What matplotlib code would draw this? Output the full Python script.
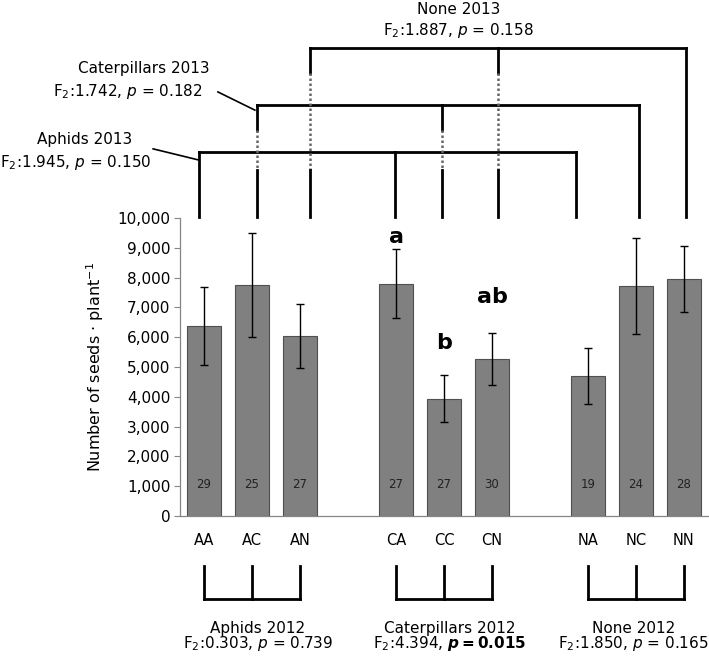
import numpy as np
import matplotlib.pyplot as plt
from matplotlib.ticker import StrMethodFormatter

plt.rcParams['font.family'] = ['DejaVu Sans']
plt.rcParams['mathtext.fontset'] = 'dejavusans'

#- Data
labels = ['AA', 'AC', 'AN', 'CA', 'CC', 'CN', 'NA', 'NC', 'NN']
means = [6380, 7750, 6040, 7790, 3930, 5270, 4700, 7720, 7950]
errs = [1320, 1730, 1070, 1160, 790, 880, 950, 1600, 1120]
n_plants = [29, 25, 27, 27, 27, 30, 19, 24, 28]
sig_labels = ['', '', '', 'a', 'b', 'ab', '', '', '']
sig_y = [0, 0, 0, 9350, 5800, 7350, 0, 0, 0]

groups_2012 = ['Aphids 2012', 'Caterpillars 2012', 'None 2012']
stats_2012 = [r'F$_2$:0.303, $\it{p}$ = 0.739',
              r'F$_2$:4.394, $\mathbfit{p}\mathbf{=0.015}$',
              r'F$_2$:1.850, $\it{p}$ = 0.165']
groups_2013 = ['Aphids 2013', 'Caterpillars 2013', 'None 2013']
stats_2013 = [r'F$_2$:1.945, $\it{p}$ = 0.150',
              r'F$_2$:1.742, $\it{p}$ = 0.182',
              r'F$_2$:1.887, $\it{p}$ = 0.158']

#- bar positions: three groups of three with a gap
x = np.array([g*4 + j for g in range(3) for j in range(3)])

fig = plt.figure(figsize=(7.09, 6.63), dpi=100)
ax = fig.add_axes([180/709, 147/663, 528/709, 298/663])

ax.bar(x, means, width=0.7, color='#808080', edgecolor='#505050', linewidth=0.8, zorder=2)
ax.errorbar(x, means, yerr=errs, fmt='none', ecolor='black', elinewidth=1.0,
            capsize=3, capthick=1.0, zorder=3)
for xi, n in zip(x, n_plants):
    ax.text(xi, 1050, str(n), ha='center', va='center', fontsize=8.5, color='#222222', zorder=4)
for xi, s, yy in zip(x, sig_labels, sig_y):
    if s:
        ax.text(xi, yy, s, ha='center', va='center', fontsize=16, fontweight='bold')

ax.set_xlim(-0.5, 10.5)
ax.set_ylim(0, 10000)
ax.set_yticks(np.arange(0, 10001, 1000))
ax.yaxis.set_major_formatter(StrMethodFormatter('{x:,.0f}'))
ax.set_xticks(x)
ax.set_xticklabels(labels)
ax.tick_params(axis='x', length=0, pad=12, labelsize=10.5)
ax.tick_params(axis='y', length=4, width=0.8, color='#868686', pad=3, labelsize=11)
for s in ['top', 'right']:
    ax.spines[s].set_visible(False)
for s in ['left', 'bottom']:
    ax.spines[s].set_color('#868686')
    ax.spines[s].set_linewidth(0.9)
ax.set_ylabel(r'Number of seeds $\cdot$ plant$^{-1}$', fontsize=11.5, labelpad=8)

lw = 2.0
kw = dict(color='black', lw=lw, clip_on=False, solid_capstyle='projecting')
dot = dict(color='#666666', lw=1.8, ls=(0, (1, 1)), clip_on=False)

#- 2013 brackets (top): x of the three drops, level of the horizontal
top_x = [[-0.10, 3.98, 7.75], [1.10, 4.96, 9.06], [2.21, 6.13, 10.04]]
top_y = [12210, 13790, 15700]
drop_end = 10030
for i, (xs, yl) in enumerate(zip(top_x, top_y)):
    ax.plot([xs[0], xs[-1]], [yl, yl], **kw)
    for xv in xs:
        crosses = any(top_x[k][0] < xv < top_x[k][-1] for k in range(i))
        if crosses:
            ax.plot([xv, xv], [yl, yl - 840], **kw)
            ax.plot([xv, xv], [yl - 840, top_y[0] - 600], **dot)
            ax.plot([xv, xv], [top_y[0] - 600, drop_end], **kw)
        else:
            ax.plot([xv, xv], [yl, drop_end], **kw)

ax.text(5.3, 17000, groups_2013[2], ha='center', va='center', fontsize=11, clip_on=False)
ax.text(5.3, 16300, stats_2013[2], ha='center', va='center', fontsize=11, clip_on=False)
ax.text(-1.25, 15030, groups_2013[1], ha='center', va='center', fontsize=11, clip_on=False)
ax.text(-1.58, 14230, stats_2013[1], ha='center', va='center', fontsize=11, clip_on=False)
ax.text(-2.48, 12620, groups_2013[0], ha='center', va='center', fontsize=11, clip_on=False)
ax.text(-2.68, 11850, stats_2013[0], ha='center', va='center', fontsize=11, clip_on=False)
ax.plot([0.29, 1.06], [14230, 13620], color='black', lw=1.2, clip_on=False)
ax.plot([-1.06, -0.12], [12320, 11950], color='black', lw=1.2, clip_on=False)

#- 2012 brackets (bottom)
label_shift = [0.12, 0.12, -0.05]
for g in range(3):
    xs = x[g*3:g*3 + 3]
    ax.plot([xs[0], xs[-1]], [-2790, -2790], **kw)
    for xv in xs:
        ax.plot([xv, xv], [-1680, -2790], **kw)
    ax.text(xs[1] + label_shift[g], -3760, groups_2012[g], ha='center', va='center',
            fontsize=11, clip_on=False)
    ax.text(xs[1] + label_shift[g], -4280, stats_2012[g], ha='center', va='center',
            fontsize=11, clip_on=False)

fig.savefig('out.png', dpi=100)
